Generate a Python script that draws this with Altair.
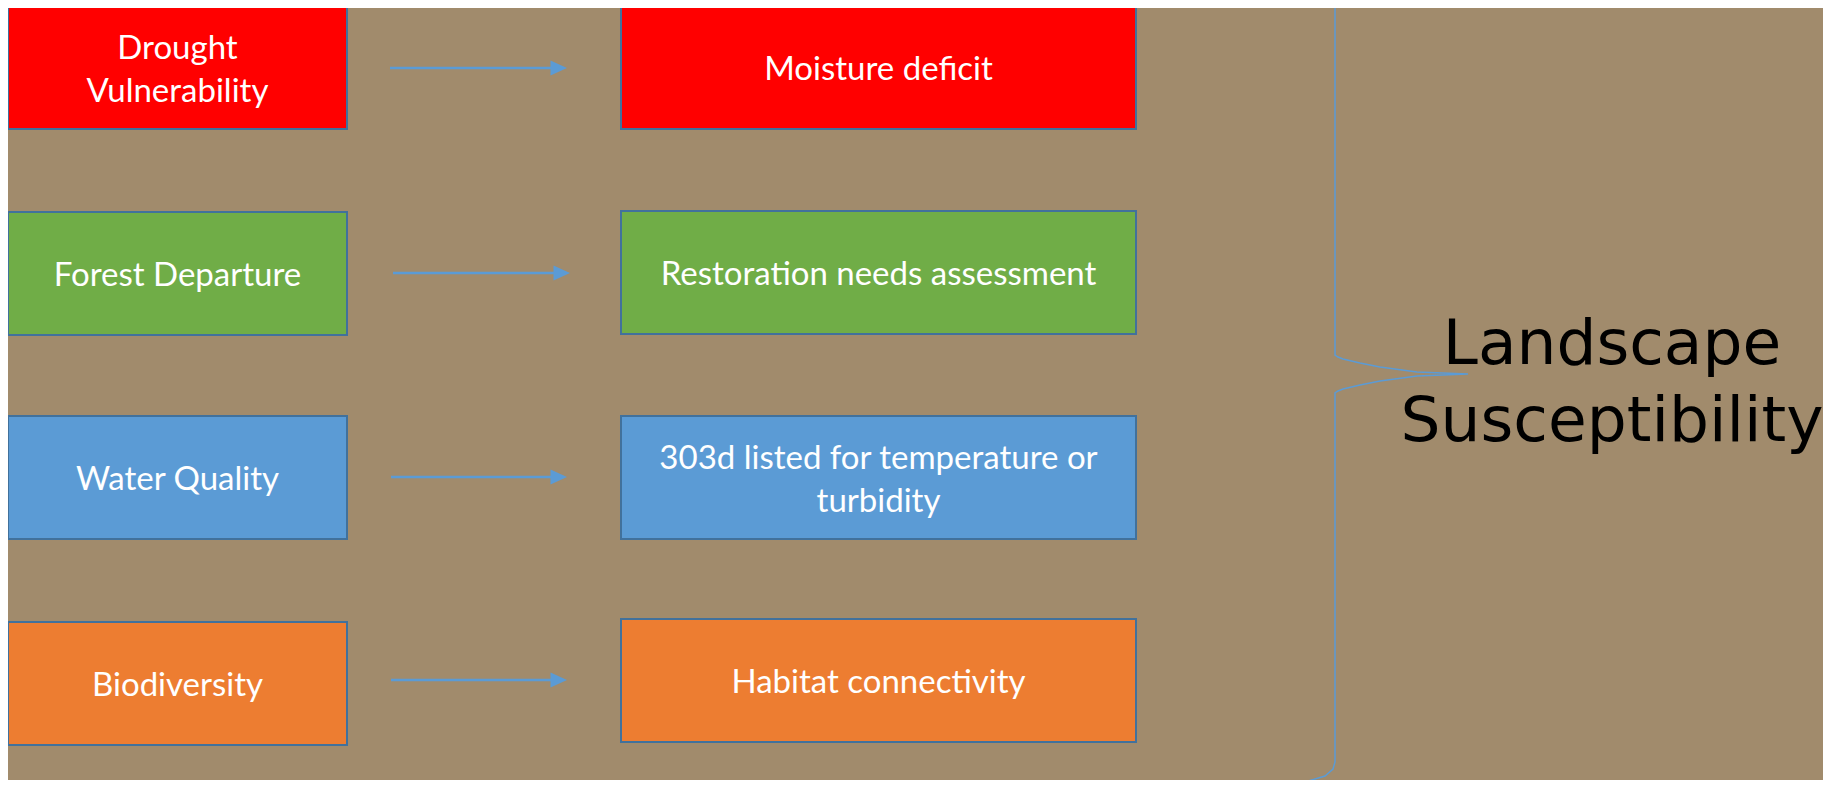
import altair as alt
import pandas as pd

# ---- content ----
left_labels = ["Drought\nVulnerability", "Forest Departure", "Water Quality", "Biodiversity"]
right_labels = ["Moisture deficit", "Restoration needs assessment",
                "303d listed for temperature or\nturbidity", "Habitat connectivity"]
fill_colors = ["#FF0000", "#70AD47", "#5B9BD5", "#ED7D31"]
summary_label = "Landscape\nSusceptibility"

# ---- layout (pixel space of the reference, y downwards) ----
left_x = (8, 347)
right_x = (621, 1136)
left_tops = [6, 212, 416, 622]
right_tops = [6, 211, 416, 619]
box_h = 123
line_h = 43
arrow_y = [68, 273, 477, 680]
arrow_start = [390, 393, 391, 391]
arrow_tip = [567, 570, 567, 567]
head_len = 16.5
brace_x = [1200, 1240, 1275, 1305, 1325, 1333, 1335,
           1335, 1338, 1343, 1360, 1380, 1417, 1468,
           1417, 1380, 1360, 1343, 1338, 1335,
           1335, 1333, 1325, 1305, 1275, 1240, 1200]
brace_y = [-44, -41, -38, -34, -28, -21, -14,
           355, 357, 359, 363, 367, 372, 374,
           376, 381, 385, 389, 391, 393,
           762, 769, 776, 782, 786, 789, 792]
summary_xy = (1612, 345)

BG = "#A18B6C"
BORDER = "#41719C"
LINE = "#5B9BD5"


def first_line_y(top, label):
    n = label.count("\n") + 1
    return top + box_h / 2 + 2.5 - (n - 1) * line_h / 2


rows = []
for i in range(4):
    rows.append(dict(x=left_x[0], x2=left_x[1], y=left_tops[i], y2=left_tops[i] + box_h,
                     fill=fill_colors[i], label=left_labels[i],
                     cx=(left_x[0] + left_x[1]) / 2, cy=first_line_y(left_tops[i], left_labels[i])))
    rows.append(dict(x=right_x[0], x2=right_x[1], y=right_tops[i], y2=right_tops[i] + box_h,
                     fill=fill_colors[i], label=right_labels[i],
                     cx=(right_x[0] + right_x[1]) / 2, cy=first_line_y(right_tops[i], right_labels[i])))
boxes = pd.DataFrame(rows)

arrows = pd.DataFrame(dict(x=arrow_start, x2=[t - head_len + 1 for t in arrow_tip], y=arrow_y,
                           head=[t - head_len / 2 for t in arrow_tip]))
brace = pd.DataFrame(dict(x=brace_x, y=brace_y, order=list(range(len(brace_x)))))
summary = pd.DataFrame(dict(x=[summary_xy[0]], y=[summary_xy[1]], label=[summary_label]))

W, H = 1815, 772
xs = alt.Scale(domain=[8, 8 + W], nice=False, zero=False)
ys = alt.Scale(domain=[8, 8 + H], nice=False, zero=False, reverse=True)
X = lambda f: alt.X(f, type="quantitative", scale=xs, axis=None)
Y = lambda f: alt.Y(f, type="quantitative", scale=ys, axis=None)

rects = alt.Chart(boxes).mark_rect(stroke=BORDER, strokeWidth=2).encode(
    x=X("x"), x2="x2", y=Y("y"), y2="y2",
    fill=alt.Fill("fill:N", scale=None))

texts = alt.Chart(boxes).mark_text(
    font="Lato", fontSize=33, color="white", align="center", baseline="middle",
    lineBreak="\n", lineHeight=line_h).encode(x=X("cx"), y=Y("cy"), text="label:N")

shafts = alt.Chart(arrows).mark_rule(color=LINE, strokeWidth=2.5).encode(
    x=X("x"), x2="x2", y=Y("y"))

heads = alt.Chart(arrows).mark_point(
    shape="M-1,-0.91L1,0L-1,0.91Z", filled=True, size=head_len ** 2, color=LINE,
    opacity=1, strokeWidth=0
).encode(x=X("head"), y=Y("y"))

brace_line = alt.Chart(brace).mark_line(color=LINE, strokeWidth=1.5, clip=True).encode(
    x=X("x"), y=Y("y"), order="order:Q")

summary_text = alt.Chart(summary).mark_text(
    font="DejaVu Sans", fontSize=63, color="black", align="center", baseline="middle",
    lineBreak="\n", lineHeight=77).encode(x=X("x"), y=Y("y"), text="label:N")

chart = alt.layer(rects, texts, shafts, heads, brace_line, summary_text).properties(
    width=W, height=H, padding=0, autosize="none", background=BG
).configure_view(stroke=None)

chart.save("out.html", embed_options={"renderer": "svg", "actions": False})
